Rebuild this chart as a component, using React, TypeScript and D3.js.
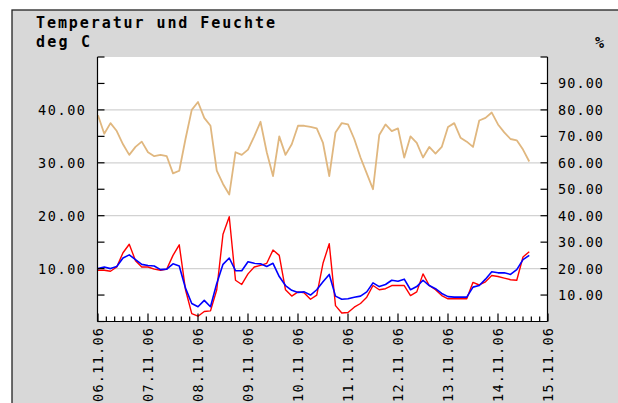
import React from 'react';
import * as d3 from 'd3';

const dateLabels = ['06.11.06','07.11.06','08.11.06','09.11.06','10.11.06','11.11.06','12.11.06','13.11.06','14.11.06','15.11.06'];
const leftTicks = [10, 20, 30, 40];
const rightTicks = [10, 20, 30, 40, 50, 60, 70, 80, 90];
const stepHours = 3;

// Feuchte (%), right axis, one value every 3 hours from 06.11.06 00:00
const humidity = [78,71,75,72,67,63,66,68,64,62.5,63,62.5,56,57,69,80,83,77,74,57,52,48,64,63,65,70,75.5,64,55,70,63,67,74,74,73.6,73,67.5,55,71.5,75,74.5,69,62,56,50,70.5,74.5,72,73,62,70,67.5,62,66,63.5,66,73.5,75,69.5,68,66,76,77,79,74.5,71.5,69,68.5,65,60.5];
// Temperatur (deg C), left axis
const tempRed = [9.7,9.7,9.5,10.3,13,14.6,11.5,10.3,10.3,9.9,9.7,9.9,12.5,14.5,6,1.5,1,1.9,2,6,16.5,19.8,7.8,7,9,10.3,10.6,11,13.5,12.5,6,4.8,5.6,5.4,4.2,5,11,14.7,3,1.6,1.7,2.7,3.4,4.6,6.8,6,6.2,6.8,6.8,6.8,4.9,5.6,9,6.8,6,4.9,4.3,4.3,4.3,4.3,7.4,6.9,7.5,8.7,8.5,8.2,7.9,7.8,12.2,13.2];
const tempBlue = [10,10.3,10,10.4,12,12.6,11.7,10.8,10.6,10.5,9.8,9.9,10.9,10.5,6.3,3.4,2.8,4,2.8,7.2,10.8,12,9.6,9.6,11.3,11,10.9,10.4,11,8.5,6.8,5.9,5.5,5.6,5,6,7.5,8.9,4.8,4.2,4.3,4.6,4.8,5.6,7.3,6.6,7,7.8,7.6,8,6,6.6,7.8,6.8,6.2,5.3,4.7,4.6,4.6,4.6,6.5,6.8,8,9.4,9.2,9.2,8.9,9.8,11.7,12.5];

export default function App() {
  const W = 618, H = 403;
  const P = { left: 97.5, right: 547.5, top: 57, bottom: 321.5 };
  const x = d3.scaleLinear().domain([0, 216]).range([P.left + 0.5, P.right + 0.5]);
  const yL = d3.scaleLinear().domain([0, 50]).range([P.bottom, P.top]);
  const yR = d3.scaleLinear().domain([0, 100]).range([P.bottom, P.top]);

  const lineL = d3.line<number>().x((_, i) => x(i * stepHours)).y(d => yL(d));
  const lineR = d3.line<number>().x((_, i) => x(i * stepHours)).y(d => yR(d));

  const mono = '"DejaVu Sans Mono", "Liberation Mono", monospace';
  const gridVals = [10, 20, 30, 40];
  const leftTickVals = d3.range(0, 51, 5);
  const rightTickVals = d3.range(10, 101, 10);
  const hourTicks = d3.range(0, 217, 4);

  return (
    <svg width={W} height={H} style={{ position: 'absolute', left: 0, top: 0 }}>
      <rect x={0} y={0} width={W} height={H} fill="#ffffff" />
      <rect x={12} y={10} width={W + 20} height={H + 20} fill="#d8d8d8" stroke="#222" strokeWidth={1.3} />
      <rect x={P.left} y={P.top} width={P.right - P.left} height={P.bottom - P.top} fill="#ffffff" />

      {gridVals.map(v => (
        <line key={'g' + v} x1={P.left} x2={P.right} y1={yL(v)} y2={yL(v)} stroke="#d2d2d2" strokeWidth={1.3} />
      ))}

      <path d={lineR(humidity) || ''} fill="none" stroke="#e0b77f" strokeWidth={1.8} strokeLinejoin="round" />
      <path d={lineL(tempRed) || ''} fill="none" stroke="#ff0000" strokeWidth={1.4} strokeLinejoin="round" />
      <path d={lineL(tempBlue) || ''} fill="none" stroke="#0000ff" strokeWidth={1.6} strokeLinejoin="round" />

      <line x1={P.left} x2={P.left} y1={P.top} y2={P.bottom} stroke="#000" strokeWidth={1.2} />
      <line x1={P.right} x2={P.right} y1={P.top} y2={P.bottom} stroke="#000" strokeWidth={1.2} />
      <line x1={P.left} x2={P.right} y1={P.bottom} y2={P.bottom} stroke="#000" strokeWidth={1.2} />

      {leftTickVals.map(v => (
        <line key={'lt' + v} x1={P.left} x2={P.left + 7} y1={yL(v)} y2={yL(v)} stroke="#000" strokeWidth={1.2} />
      ))}
      {rightTickVals.map(v => (
        <line key={'rt' + v} x1={P.right - 7} x2={P.right} y1={yR(v)} y2={yR(v)} stroke="#000" strokeWidth={1.2} />
      ))}
      {hourTicks.map(h => (
        <line key={'bt' + h} x1={x(h)} x2={x(h)} y1={P.bottom} y2={P.bottom - (h % 24 === 0 ? 8 : 5)} stroke="#000" strokeWidth={1.2} />
      ))}

      {leftTicks.map(v => (
        <text key={'ll' + v} x={85} y={yL(v)} dominantBaseline="central" textAnchor="end"
          fontFamily={mono} fontSize={13.5} fill="#000" textLength={47} lengthAdjust="spacing">{d3.format('.2f')(v)}</text>
      ))}
      {rightTicks.map(v => (
        <text key={'rl' + v} x={558} y={yR(v)} dominantBaseline="central" textAnchor="start"
          fontFamily={mono} fontSize={13.5} fill="#000" textLength={45} lengthAdjust="spacing">{d3.format('.2f')(v)}</text>
      ))}
      {dateLabels.map((d, i) => (
        <text key={'dl' + d} transform={`translate(${x(i * 24)},328) rotate(-90)`} dominantBaseline="central" textAnchor="end"
          fontFamily={mono} fontSize={13.5} fill="#000" textLength={74} lengthAdjust="spacing">{d}</text>
      ))}

      <text x={36} y={28} fontFamily={mono} fontWeight="bold" fontSize={15} fill="#000" textLength={239} lengthAdjust="spacing">Temperatur und Feuchte</text>
      <text x={36} y={47} fontFamily={mono} fontWeight="bold" fontSize={15} fill="#000" textLength={54} lengthAdjust="spacing">deg C</text>
      <text x={595} y={48} fontFamily={mono} fontWeight="bold" fontSize={15} fill="#000">%</text>
    </svg>
  );
}
